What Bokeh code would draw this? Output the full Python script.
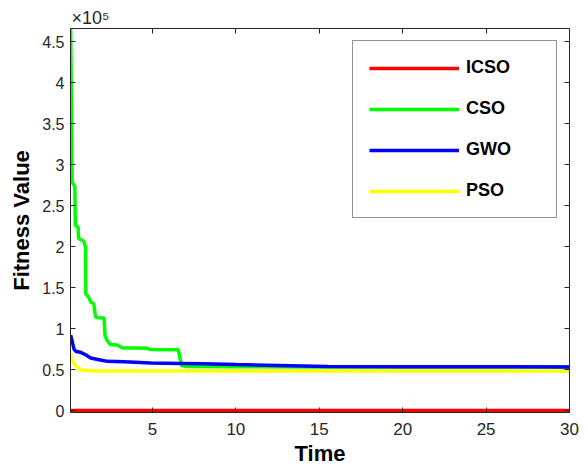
from bokeh.plotting import figure
from bokeh.models import (Range1d, FixedTicker, CustomJSTickFormatter, LinearAxis,
                          Legend, LegendItem, Title)
from bokeh.embed import file_html
from bokeh.resources import INLINE

# Convergence curves: fitness value against elapsed time
time_icso = [0.10, 30.0]
fit_icso = [0, 0]

time_cso = [0.10, 0.19, 0.35, 0.38, 0.55, 0.57, 0.89, 0.99, 1.01, 1.15, 1.33, 1.49,
            1.59, 1.89, 2.10, 2.16, 2.29, 2.49, 2.89, 3.19, 4.68, 4.88, 6.55, 6.75,
            7.00, 10.0, 15.0, 20.0, 30.0]
fit_cso = [466000, 278000, 274000, 226000, 223500, 210000, 206500, 199000, 142000,
           139000, 132000, 130000, 114000, 113000, 113000, 91500, 85400, 80500,
           80000, 76500, 76000, 74400, 74000, 54900, 53700, 53500, 53200, 53000, 53000]

time_gwo = [0.10, 0.30, 0.42, 0.70, 1.00, 1.30, 1.80, 2.30, 3.30, 4.90, 6.70, 8.00,
            10.0, 12.5, 15.5, 20.0, 30.0]
fit_gwo = [92000, 75000, 72000, 71000, 68000, 64000, 62000, 60000, 59500, 58000,
           57500, 57000, 56000, 55000, 53800, 53400, 53200]

time_pso = [0.10, 0.19, 0.39, 0.69, 1.50, 3.00, 30.0]
fit_pso = [69000, 61000, 55000, 49600, 48300, 48200, 48200]

series_names = ["ICSO", "CSO", "GWO", "PSO"]
series_colors = ["#FF0000", "#00FF00", "#0000FF", "#FFFF00"]

x_ticks = [5, 10, 15, 20, 25, 30]
y_ticks = [0, 50000, 100000, 150000, 200000, 250000, 300000, 350000, 400000, 450000]

FONT = "Liberation Sans"
AXIS_COLOR = "#262626"

# the y range reaches a hair below zero so the zero-level line is not cut in half
p = figure(width=588, height=470, output_backend="svg", toolbar_location=None,
           x_range=Range1d(0.09, 30), y_range=Range1d(-2400, 466000),
           min_border_left=70, min_border_right=19, min_border_top=28,
           min_border_bottom=58, background_fill_color="white",
           border_fill_color="white")
p.outline_line_color = None
p.xgrid.visible = False
p.ygrid.visible = False

y_fmt = CustomJSTickFormatter(code="return (tick / 1e5).toString();")
blank = CustomJSTickFormatter(code="return '';")


def style_axis(ax):
    ax.axis_line_color = AXIS_COLOR
    ax.major_tick_line_color = AXIS_COLOR
    ax.major_tick_in = 5
    ax.major_tick_out = 0
    ax.minor_tick_line_color = None
    ax.major_label_text_font = FONT
    ax.major_label_text_font_size = "16px"
    ax.major_label_text_color = AXIS_COLOR
    ax.axis_label_text_font = FONT
    ax.axis_label_text_font_style = "bold"
    ax.axis_label_text_font_size = "22px"
    ax.axis_label_text_color = "black"


xa = p.xaxis[0]
xa.ticker = FixedTicker(ticks=x_ticks)
xa.axis_label = "Time"
style_axis(xa)
xa.major_label_text_font_size = "17px"
xa.major_label_standoff = 10
xa.axis_label_standoff = 3

ya = p.yaxis[0]
ya.ticker = FixedTicker(ticks=y_ticks)
ya.formatter = y_fmt
ya.axis_label = "Fitness Value"
style_axis(ya)
ya.major_label_standoff = 6
ya.axis_label_standoff = 5

top_ax = LinearAxis(ticker=FixedTicker(ticks=x_ticks), formatter=blank)
style_axis(top_ax)
top_ax.major_label_standoff = 0
top_ax.major_label_text_font_size = "0px"
p.add_layout(top_ax, "above")

right_ax = LinearAxis(ticker=FixedTicker(ticks=y_ticks), formatter=blank)
style_axis(right_ax)
right_ax.major_label_standoff = 0
right_ax.major_label_text_font_size = "0px"
p.add_layout(right_ax, "right")

# exponent marker above the y axis
p.add_layout(Title(text="\u00d710\u2075", align="left", offset=1, standoff=1,
                   text_font=FONT, text_font_size="18px", text_font_style="normal",
                   text_color=AXIS_COLOR), "above")

series = [(time_icso, fit_icso), (time_cso, fit_cso), (time_gwo, fit_gwo),
          (time_pso, fit_pso)]
renderers = []
for (xs, ys), color in zip(series, series_colors):
    renderers.append(p.line(xs, ys, line_color=color, line_width=3.5))

legend = Legend(items=[LegendItem(label=n, renderers=[r])
                       for n, r in zip(series_names, renderers)],
                location="top_right", margin=12, padding=16, spacing=20,
                glyph_width=90, glyph_height=20, label_height=20, label_width=74,
                label_standoff=7, border_line_color=AXIS_COLOR, border_line_width=1,
                background_fill_color="white", background_fill_alpha=1,
                label_text_font=FONT, label_text_font_style="bold",
                label_text_font_size="18px", label_text_color="black")
p.add_layout(legend)

open("out.html", "w").write(file_html(p, INLINE))
